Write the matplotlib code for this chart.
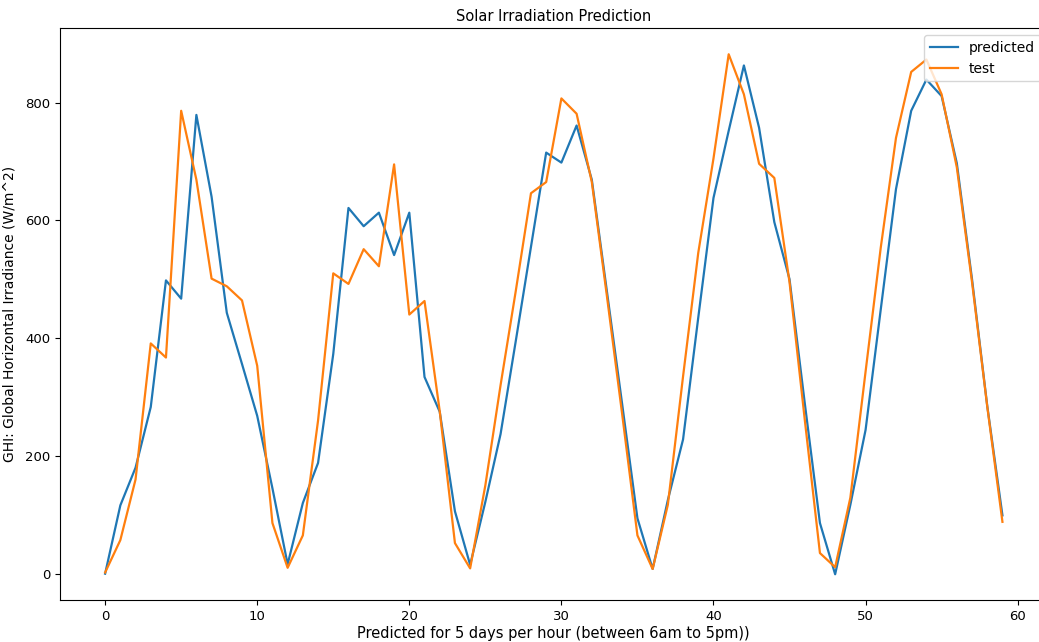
import numpy as np
import matplotlib
matplotlib.use('Agg')
import matplotlib.pyplot as plt

# hourly GHI values, 5 days x 12 hours
predicted = [0, 116, 180, 283, 498, 467, 779, 640, 443, 356, 268, 145,
             16, 120, 188, 373, 621, 590, 613, 541, 613, 334, 275, 106,
             15, 122, 237, 395, 555, 715, 698, 761, 669, 478, 287, 94,
             8, 125, 228, 435, 638, 752, 863, 757, 597, 500, 290, 86,
             -1, 117, 244, 449, 653, 786, 839, 811, 697, 500, 285, 99]
test = [2, 57, 160, 391, 367, 786, 669, 501, 488, 464, 353, 86,
        10, 65, 260, 510, 492, 551, 522, 695, 440, 463, 276, 52,
        9, 150, 320, 480, 646, 665, 807, 781, 665, 470, 270, 65,
        8, 117, 335, 545, 705, 882, 814, 696, 672, 495, 262, 35,
        11, 129, 343, 554, 740, 852, 873, 814, 690, 495, 284, 88]

plt.rcParams['font.family'] = ['DejaVu Sans']

fig = plt.figure(figsize=(10.39, 6.42), dpi=100)
# axes runs slightly past the right edge, as in the reference crop
ax = fig.add_axes([0.058, 0.065, 0.950, 0.891])
ax.plot(predicted, label='predicted', linewidth=1.6)
ax.plot(test, label='test', linewidth=1.6)
ax.set_title('Solar Irradiation Prediction', fontsize=10.5, pad=5)
ax.set_xlabel('Predicted for 5 days per hour (between 6am to 5pm))', fontsize=10.5, labelpad=2)
ax.set_ylabel('GHI: Global Horizontal Irradiance (W/m^2)', fontsize=10, labelpad=6)
ax.set_yticks([0, 200, 400, 600, 800])
ax.tick_params(labelsize=9.5)
ax.legend(loc='upper right', fontsize=10)
plt.savefig('out.png')
